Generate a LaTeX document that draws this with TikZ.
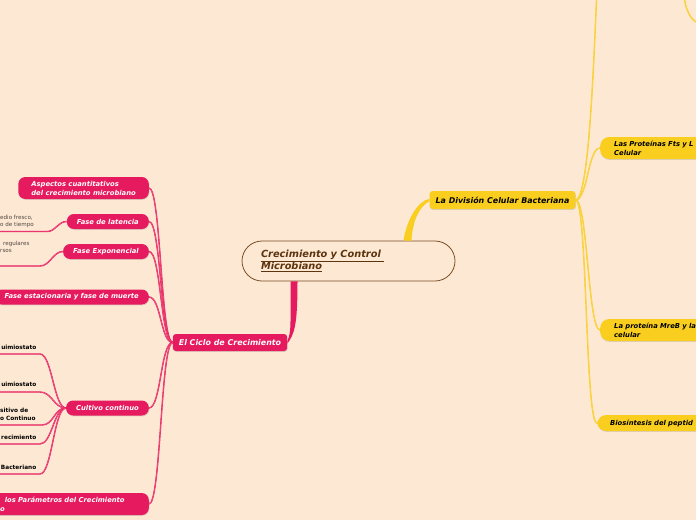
\documentclass[tikz,border=0pt]{standalone}
\usepackage{fontspec}
\setmainfont{DejaVu Sans}
\usetikzlibrary{shadows}
\definecolor{bgc}{RGB}{253,232,211}
\definecolor{pinkc}{RGB}{230,26,94}
\definecolor{yelc}{RGB}{249,206,30}
\definecolor{brownc}{RGB}{122,78,38}
\definecolor{browntxt}{RGB}{92,52,14}
\definecolor{notec}{RGB}{80,70,65}
\begin{document}
\begin{tikzpicture}[
    x=1pt, y=-1pt,
    every node/.style={inner sep=0pt},
    lift/.style={drop shadow={opacity=0.25, shadow xshift=0.5pt, shadow yshift=-0.9pt}},
    topic/.style={draw=brownc, line width=0.8pt, fill=bgc, rounded corners=20pt,
                  minimum width=213pt, minimum height=40pt, text width=175pt, align=left,
                  text=browntxt, font=\fontsize{9.8}{12.5}\selectfont\bfseries\itshape},
    pinkmain/.style={lift, fill=pinkc, text=white, rounded corners=3pt, inner xsep=6pt,
                     minimum height=17pt, font=\fontsize{7.9}{9.5}\selectfont\bfseries\itshape},
    yelmain/.style={lift, fill=yelc, text=black, rounded corners=3pt, inner xsep=6pt,
                    minimum height=18pt, font=\fontsize{7.9}{9.5}\selectfont\bfseries\itshape},
    pinkkid/.style={lift, fill=pinkc, text=white, rounded corners=7pt, inner xsep=10pt,
                    minimum height=15pt, anchor=east,
                    font=\fontsize{6.8}{9}\selectfont\bfseries\itshape},
    yelkid/.style={lift, fill=yelc, text=black, rounded corners=9pt, inner xsep=14pt,
                   minimum height=22pt, anchor=west, text width=110pt, align=left,
                   font=\fontsize{6.8}{9}\selectfont\bfseries\itshape},
    note/.style={text=notec, align=left, font=\fontsize{5.6}{6.6}\selectfont},
    leaf/.style={text=black, align=left, font=\fontsize{5.8}{8.7}\selectfont\bfseries},
    pinkline/.style={draw=pinkc, line width=0.5pt, double=pinkc!60!bgc, double distance=0.4pt},
    yelline/.style={draw=yelc, line width=0.5pt, double=yelc!60!bgc, double distance=0.4pt},
  ]
  \useasboundingbox (0,0) rectangle (696,520);
  \fill[bgc] (0,0) rectangle (696,520);
  \clip (0,0) rectangle (696,520);

  \node[topic] (centre) at (348.5,261) {\underline{Crecimiento y Control~}\\\underline{Microbiano}};
  \node[pinkmain] (ciclo) at (230,342.5) {El Ciclo de Crecimiento};
  \node[yelmain] (division) at (502.5,200) {La División Celular Bacteriana};

  \node[pinkkid, align=left, inner xsep=13pt, minimum height=22pt] (aspectos) at (149,188)
    {Aspectos cuantitativos\\del crecimiento microbiano};
  \node[pinkkid] (latencia) at (149,221.5) {Fase de latencia};
  \node[pinkkid] (exponencial) at (149,251.5) {Fase Exponencial};
  \node[pinkkid] (estacionaria) at (149,297) {Fase estacionaria y fase de muerte};
  \node[pinkkid] (cultivo) at (149,408) {Cultivo continuo};
  \node[pinkkid, text width=140pt, align=left, minimum height=22pt] (parametros) at (149,504)
    {\hspace*{6pt}los Parámetros del Crecimiento\\\hspace*{1.3pt}o};

  \node[yelkid] (fts) at (600,148) {Las Proteínas Fts y L\\Celular};
  \node[yelkid] (mreb) at (600,330) {La proteína MreB y la\\celular};
  \node[yelkid, inner xsep=13pt, minimum height=16pt] (biosint) at (597,423) {Biosíntesis del peptid};

  \node[note, anchor=north west] (lat-t) at (0,215.5) {edio fresco,\\o de tiempo};
  \node[note, anchor=north west] (exp-t) at (0,241.5) {\hspace*{3pt}regulares\\rsos};
  \node[leaf, anchor=base east] (q1-t) at (36.5,349) {uimiostato};
  \node[leaf, anchor=base east] (q2-t) at (36.5,386.5) {uimiostato};
  \node[leaf, anchor=north west] (dc-t) at (0,407.5) {sitivo de\\o Continuo};
  \node[leaf, anchor=base east] (cr-t) at (36.5,439.5) {recimiento};
  \node[leaf, anchor=base east] (bc-t) at (36.5,469.5) {Bacteriano};

  \coordinate (edge) at (-5,0);
  \coordinate (lat-u) at (47,231.5);
  \coordinate (exp-u) at (40,266);
  \coordinate (q1) at (40,354);
  \coordinate (q2) at (40,392);
  \coordinate (dc) at (42,425);
  \coordinate (cr) at (40,444);
  \coordinate (bc) at (40,474);
  \coordinate (up) at (597,-10);
  \coordinate (tr1) at (684,-5);
  \coordinate (tr2) at (700,23);

  \fill[pinkc] ([xshift=-58pt]centre.south) .. controls +(0,45) and +(4,-10) .. ([yshift=1.2pt]ciclo.east)
    -- ([yshift=-1.2pt]ciclo.east) .. controls +(7,-10) and +(0,45) .. ([xshift=-51pt]centre.south) -- cycle;
  \fill[yelc] ([xshift=55pt]centre.north) .. controls +(3,-20) and +(-12,2) .. ([yshift=1.2pt]division.west)
    -- ([yshift=-1.2pt]division.west) .. controls +(-10,5) and +(1,-20) .. ([xshift=63pt]centre.north) -- cycle;

  \foreach \kid in {aspectos,latencia,exponencial,estacionaria,cultivo,parametros}
    \draw[pinkline] (ciclo.west) .. controls +(-12,0) and +(12,0) .. (\kid.east);
  \draw[pinkline] (latencia.west) .. controls +(-9,0) and +(9,0) .. (lat-u) -- (lat-u -| edge);
  \draw[pinkline] (exponencial.west) .. controls +(-10,0) and +(10,0) .. (exp-u) -- (exp-u -| edge);
  \foreach \u in {q1,q2,dc,cr,bc}
    \draw[pinkline] (cultivo.west) .. controls +(-12,0) and +(12,0) .. (\u) -- (\u -| edge);

  \foreach \kid in {fts,mreb,biosint}
    \draw[yelline] (division.east) .. controls +(12,0) and +(-12,0) .. (\kid.west);
  \draw[yelline] (division.east) .. controls +(14,0) and +(-3,60) .. (up);
  \draw[yelline] (tr1) .. controls +(1,15) and +(-8,0) .. (tr2);
\end{tikzpicture}
\end{document}
